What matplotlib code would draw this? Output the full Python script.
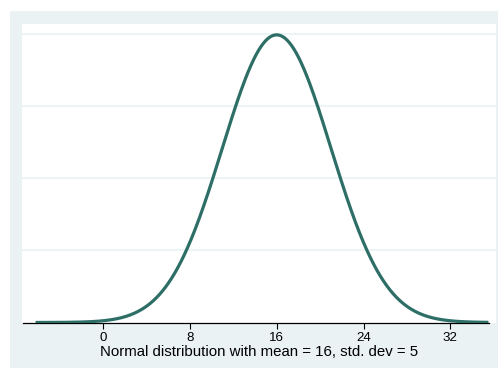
import matplotlib
matplotlib.use("Agg")
import matplotlib.pyplot as plt
from matplotlib.patches import Rectangle
import numpy as np

plt.rcParams['font.family'] = ['Liberation Sans', 'DejaVu Sans']

## Distribution parameters and plotted range
mean = 16
sd = 5
x_start, x_end = -6.2, 35.5
xticks = [0, 8, 16, 24, 32]
ygrid = [0.02, 0.04, 0.06, 0.08]
caption = "Normal distribution with mean = 16, std. dev = 5"

panel_color = '#EAF2F3'
line_color = '#2D6E66'

W, H = 498, 369
fig = plt.figure(figsize=(W / 100, H / 100), dpi=100)
fig.patch.set_facecolor('white')

# light outer panel behind the plot
fig.patches.append(Rectangle((10 / W, 1 / H), 487.7 / W, 357 / H,
                             transform=fig.transFigure, facecolor=panel_color,
                             edgecolor='none', zorder=-10))

ax = fig.add_axes([22 / W, (H - 322.5) / H, 474 / W, 298.5 / H])
ax.set_facecolor('white')

## Density curve
x = np.linspace(x_start, x_end, 600)
y = np.exp(-0.5 * ((x - mean) / sd) ** 2) / (sd * np.sqrt(2 * np.pi))
ax.plot(x, y, color=line_color, lw=2.3, solid_capstyle='butt', zorder=3)

for g in ygrid:
    ax.axhline(g, color=panel_color, lw=1.2, zorder=1)

ax.set_xlim(-7.45, 36.2)
ax.set_ylim(0, 0.0828)

for s in ['left', 'top', 'right']:
    ax.spines[s].set_visible(False)
ax.spines['bottom'].set_bounds(-7.4, 35.6)
ax.spines['bottom'].set_linewidth(0.9)

ax.set_yticks([])
ax.set_xticks(xticks)
ax.tick_params(axis='x', length=4.5, width=0.8, pad=2.5, labelsize=9.6)
ax.set_xlabel(caption, fontsize=10.8, labelpad=0.5)

fig.savefig('out.png', dpi=100)
